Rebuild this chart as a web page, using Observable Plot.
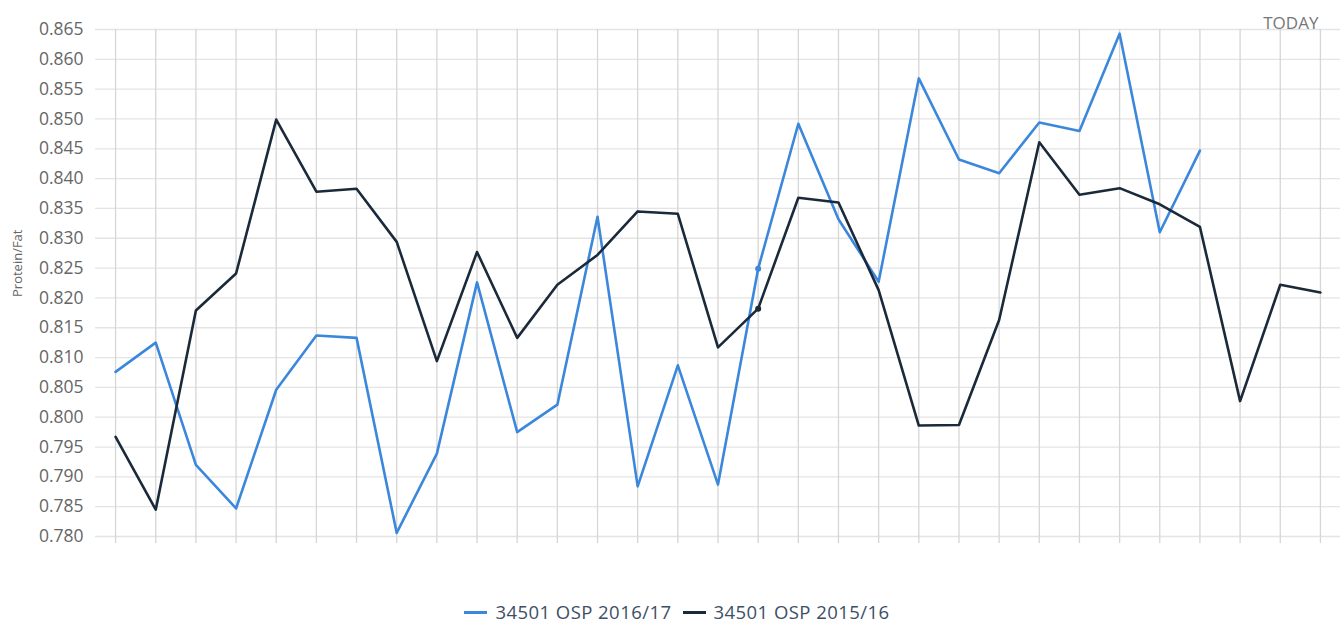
<!DOCTYPE html>
<html>
<head>
<meta charset="utf-8">
<script src="https://cdn.jsdelivr.net/npm/d3@7"></script>
<script src="https://cdn.jsdelivr.net/npm/@observablehq/plot@0.6"></script>
<style>
  body { margin: 0; background: #fff; font-family: "Open Sans", sans-serif; }
  #chart svg { display: block; }
  #legend { height: 45px; box-sizing: border-box; padding-top: 19px; display: flex; justify-content: center; gap: 11px; font-size: 18.5px; letter-spacing: 0.45px; line-height: 24px; color: #3d4f66; padding-left: 11px; }
  .item { display: flex; align-items: center; gap: 8px; white-space: nowrap; }
  .sw { width: 23px; height: 3px; display: inline-block; }
</style>
</head>
<body>
<div id="chart"></div>
<div id="legend"></div>
<script>
// ---- data ----
const periods = ["1","2","3","4","5","6","7","8","9","10","11","12","13","14","15","16","17","18","19","20","21","22","23","24","25","26","27","28","29","30","31"];
const seriesNames = ["34501 OSP 2016/17", "34501 OSP 2015/16"];
const seriesColors = ["#3b87dc", "#1a2a3a"];
const values2016 = [0.8076, 0.8125, 0.7920, 0.7847, 0.8046, 0.8137, 0.8133, 0.7806, 0.7939, 0.8226, 0.7975, 0.8021, 0.8336, 0.7884, 0.8087, 0.7887, 0.8249, 0.8492, 0.8332, 0.8227, 0.8568, 0.8432, 0.8409, 0.8494, 0.8480, 0.8643, 0.8310, 0.8447];
const values2015 = [0.7967, 0.7845, 0.8179, 0.8241, 0.8499, 0.8378, 0.8383, 0.8294, 0.8094, 0.8277, 0.8133, 0.8222, 0.8272, 0.8345, 0.8341, 0.8117, 0.8182, 0.8368, 0.8360, 0.8213, 0.7986, 0.7987, 0.8163, 0.8461, 0.8373, 0.8384, 0.8357, 0.8319, 0.8027, 0.8222, 0.8209];
const yTicks = [0.780, 0.785, 0.790, 0.795, 0.800, 0.805, 0.810, 0.815, 0.820, 0.825, 0.830, 0.835, 0.840, 0.845, 0.850, 0.855, 0.860, 0.865];
const markedPeriod = "17";
const todayLabel = "TODAY";
const yTitle = "Protein/Fat";

// ---- table ----
const rows = [
  ...values2016.map((v, i) => ({period: periods[i], value: v, series: seriesNames[0]})),
  ...values2015.map((v, i) => ({period: periods[i], value: v, series: seriesNames[1]}))
];
const marked = rows.filter(d => d.period === markedPeriod);

const chart = Plot.plot({
  width: 1343,
  height: 580,
  marginLeft: 95,
  marginRight: 3,
  marginTop: 29,
  marginBottom: 44,
  style: { fontFamily: "Open Sans, sans-serif", background: "#fff" },
  x: { type: "point", domain: periods, padding: 0.5, round: false, axis: null },
  y: { domain: [0.780, 0.865], axis: null },
  color: { domain: seriesNames, range: seriesColors },
  marks: [
    Plot.gridY(yTicks, { stroke: "#e4e4e4", strokeOpacity: 1, strokeWidth: 1.3 }),
    Plot.gridX(periods, { stroke: "#d6d6d6", strokeOpacity: 1, strokeWidth: 1.3 }),
    Plot.axisX(periods, { tickSize: 7, tickFormat: () => "", stroke: "#d6d6d6", strokeWidth: 1.3, label: null }),
    Plot.axisY(yTicks, { tickSize: 0, tickPadding: 12, tickFormat: d3.format(".3f"), fontSize: 17.5, fill: "#666", label: null }),
    Plot.text([yTitle], { frameAnchor: "left", dx: -78, dy: 14, rotate: -90, fontSize: 13, fill: "#666" }),
    Plot.text([periods[periods.length - 1]], { x: d => d, frameAnchor: "top", text: () => todayLabel, textAnchor: "end", dx: -2, dy: -13, fontSize: 17, fill: "#777" }),
    Plot.line(rows, { x: "period", y: "value", z: "series", stroke: "series", strokeWidth: 2.6 }),
    Plot.dot(marked, { x: "period", y: "value", fill: "series", r: 3 })
  ]
});
document.getElementById("chart").appendChild(chart);

const legend = document.getElementById("legend");
seriesNames.forEach((name, i) => {
  const item = document.createElement("div");
  item.className = "item";
  const sw = document.createElement("span");
  sw.className = "sw";
  sw.style.background = seriesColors[i];
  const t = document.createElement("span");
  t.textContent = name;
  item.appendChild(sw);
  item.appendChild(t);
  legend.appendChild(item);
});
</script>
</body>
</html>
